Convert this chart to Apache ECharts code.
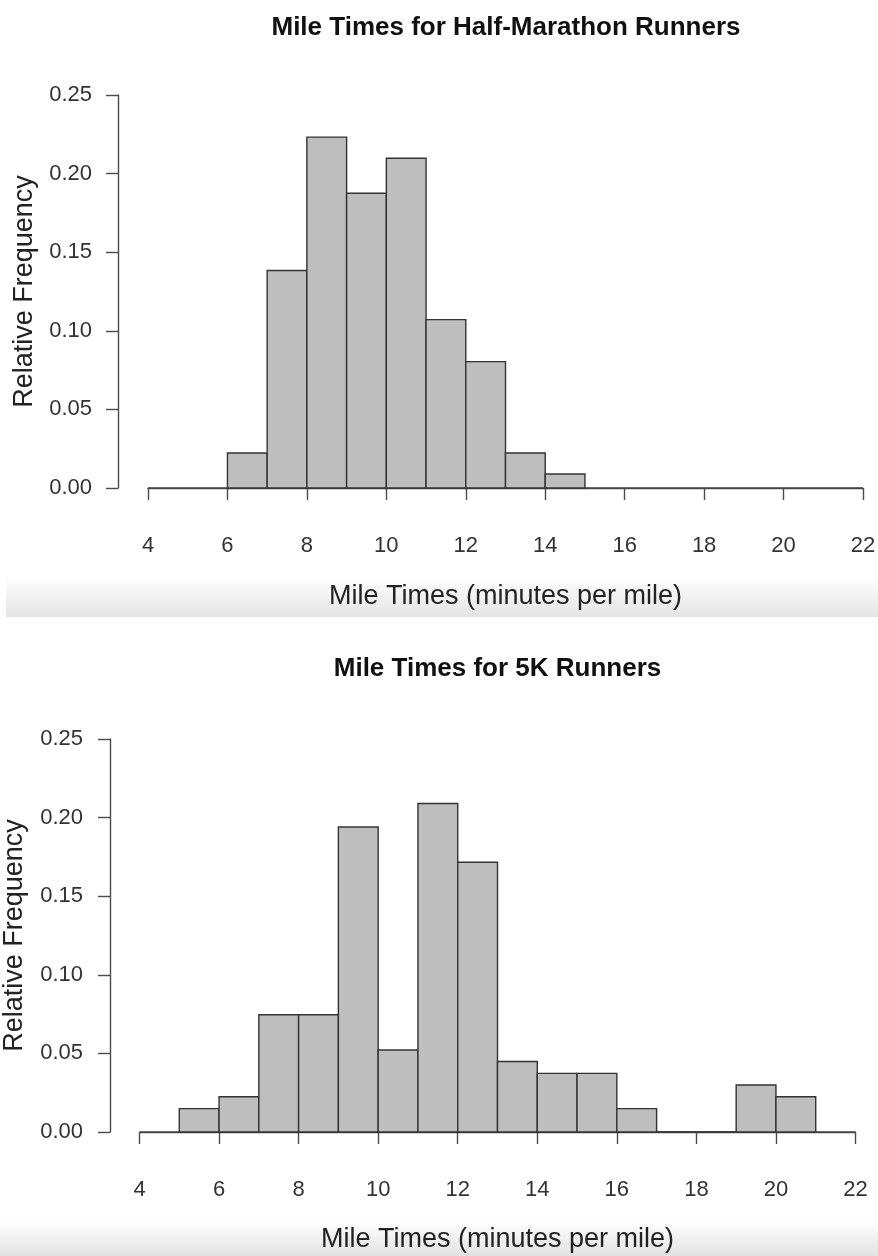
<!DOCTYPE html>
<html>
<head>
<meta charset="utf-8">
<script src="https://cdn.jsdelivr.net/npm/echarts@6/dist/echarts.min.js"></script>
<style>
  html, body { margin: 0; padding: 0; background: #ffffff; }
  #chart { width: 878px; height: 1256px; }
</style>
</head>
<body>
<div id="chart"></div>
<script>
// ---- Data ----
const halfTitle = 'Mile Times for Half-Marathon Runners';
const fiveKTitle = 'Mile Times for 5K Runners';
const xAxisTitle = 'Mile Times (minutes per mile)';
const yAxisTitle = 'Relative Frequency';

// Half-marathon: bin start (minutes), bin width 1
const halfBinStarts = [6, 7, 8, 9, 10, 11, 12, 13, 14];
const halfRelFreq   = [0.0223, 0.1384, 0.2232, 0.1875, 0.2098, 0.1071, 0.0804, 0.0223, 0.0089];

// 5K: bin start (minutes), bin width 1
const fiveKBinStarts = [5, 6, 7, 8, 9, 10, 11, 12, 13, 14, 15, 16, 17, 18, 19, 20];
const fiveKRelFreq   = [0.0149, 0.0224, 0.0746, 0.0746, 0.1940, 0.0522, 0.2090, 0.1716, 0.0448, 0.0373, 0.0373, 0.0149, 0, 0, 0.0299, 0.0224];

const binWidth = 1;
const xTicks = [4, 6, 8, 10, 12, 14, 16, 18, 20, 22];
const yTicks = [0.00, 0.05, 0.10, 0.15, 0.20, 0.25];

// ---- Build ----
const FONT = '"Liberation Sans", Arial, Helvetica, sans-serif';
const toRects = (starts, vals) => starts.map((s, i) => [s, s + binWidth, vals[i]]);

function renderBar(params, api) {
  const topLeft = api.coord([api.value(0), api.value(2)]);
  const botRight = api.coord([api.value(1), 0]);
  return {
    type: 'rect',
    shape: { x: topLeft[0], y: topLeft[1], width: botRight[0] - topLeft[0], height: botRight[1] - topLeft[1] },
    style: { fill: '#bebebe', stroke: '#333333', lineWidth: 1.4 }
  };
}

const grids = [
  { left: 148, top: 95, width: 715, height: 393, xOffset: 16, yOffset: 30, xLabelMargin: 31, xNameGap: 79, yLabelMargin: 26, yNameGap: 79 },
  { left: 139.5, top: 739, width: 716, height: 393, xOffset: 14.5, yOffset: 29.5, xLabelMargin: 32, xNameGap: 80, yLabelMargin: 27, yNameGap: 82 }
];

const axisLineStyle = { color: '#4a4a4a', width: 1.4 };

const option = {
  backgroundColor: '#ffffff',
  animation: false,
  title: [
    { text: halfTitle, left: 506, top: 15, textAlign: 'center', padding: 0,
      textStyle: { fontFamily: FONT, fontSize: 26, fontWeight: 'bold', color: '#111111' } },
    { text: fiveKTitle, left: 497.5, top: 656, textAlign: 'center', padding: 0,
      textStyle: { fontFamily: FONT, fontSize: 26, fontWeight: 'bold', color: '#111111' } }
  ],
  graphic: [
    { type: 'rect', z: -1, silent: true, shape: { x: 6, y: 576, width: 872, height: 41 },
      style: { fill: { type: 'linear', x: 0, y: 0, x2: 0, y2: 1, colorStops: [{ offset: 0, color: '#ffffff' }, { offset: 1, color: '#e4e4e4' }] } } },
    { type: 'rect', z: -1, silent: true, shape: { x: 0, y: 1220, width: 878, height: 36 },
      style: { fill: { type: 'linear', x: 0, y: 0, x2: 0, y2: 1, colorStops: [{ offset: 0, color: '#ffffff' }, { offset: 1, color: '#e2e2e2' }] } } }
  ],
  grid: grids.map(g => ({ left: g.left, top: g.top, width: g.width, height: g.height, outerBoundsMode: 'none', containLabel: false })),
  xAxis: grids.map((g, i) => ({
    type: 'value', gridIndex: i, min: xTicks[0], max: xTicks[xTicks.length - 1], interval: 2,
    position: 'bottom', offset: g.xOffset,
    name: xAxisTitle, nameLocation: 'middle', nameGap: g.xNameGap,
    nameTextStyle: { fontFamily: FONT, fontSize: 27, color: '#222222' },
    axisLine: { show: true, lineStyle: axisLineStyle },
    axisTick: { show: true, inside: false, length: 12, lineStyle: axisLineStyle },
    axisLabel: { fontFamily: FONT, fontSize: 22, color: '#333333', margin: g.xLabelMargin, showMinLabel: true, showMaxLabel: true },
    splitLine: { show: false }
  })),
  yAxis: grids.map((g, i) => ({
    type: 'value', gridIndex: i, min: yTicks[0], max: yTicks[yTicks.length - 1], interval: 0.05,
    position: 'left', offset: g.yOffset,
    name: yAxisTitle, nameLocation: 'middle', nameGap: g.yNameGap, nameRotate: 90,
    nameTextStyle: { fontFamily: FONT, fontSize: 27, color: '#222222' },
    axisLine: { show: true, lineStyle: axisLineStyle },
    axisTick: { show: true, inside: false, length: 12, lineStyle: axisLineStyle },
    axisLabel: { fontFamily: FONT, fontSize: 22, color: '#333333', margin: g.yLabelMargin,
      formatter: v => v.toFixed(2), showMinLabel: true, showMaxLabel: true },
    splitLine: { show: false }
  })),
  series: [
    { type: 'line', xAxisIndex: 0, yAxisIndex: 0, data: [[xTicks[0], 0], [xTicks[xTicks.length - 1], 0]],
      symbol: 'none', lineStyle: { color: '#444444', width: 1.4 }, silent: true, z: 1 },
    { type: 'custom', xAxisIndex: 0, yAxisIndex: 0, renderItem: renderBar,
      encode: { x: [0, 1], y: 2 }, data: toRects(halfBinStarts, halfRelFreq), z: 2 },
    { type: 'line', xAxisIndex: 1, yAxisIndex: 1, data: [[xTicks[0], 0], [xTicks[xTicks.length - 1], 0]],
      symbol: 'none', lineStyle: { color: '#444444', width: 1.4 }, silent: true, z: 1 },
    { type: 'custom', xAxisIndex: 1, yAxisIndex: 1, renderItem: renderBar,
      encode: { x: [0, 1], y: 2 }, data: toRects(fiveKBinStarts, fiveKRelFreq), z: 2 }
  ]
};

const chart = echarts.init(document.getElementById('chart'), null, { renderer: 'canvas', width: 878, height: 1256 });
chart.setOption(option);
</script>
</body>
</html>
